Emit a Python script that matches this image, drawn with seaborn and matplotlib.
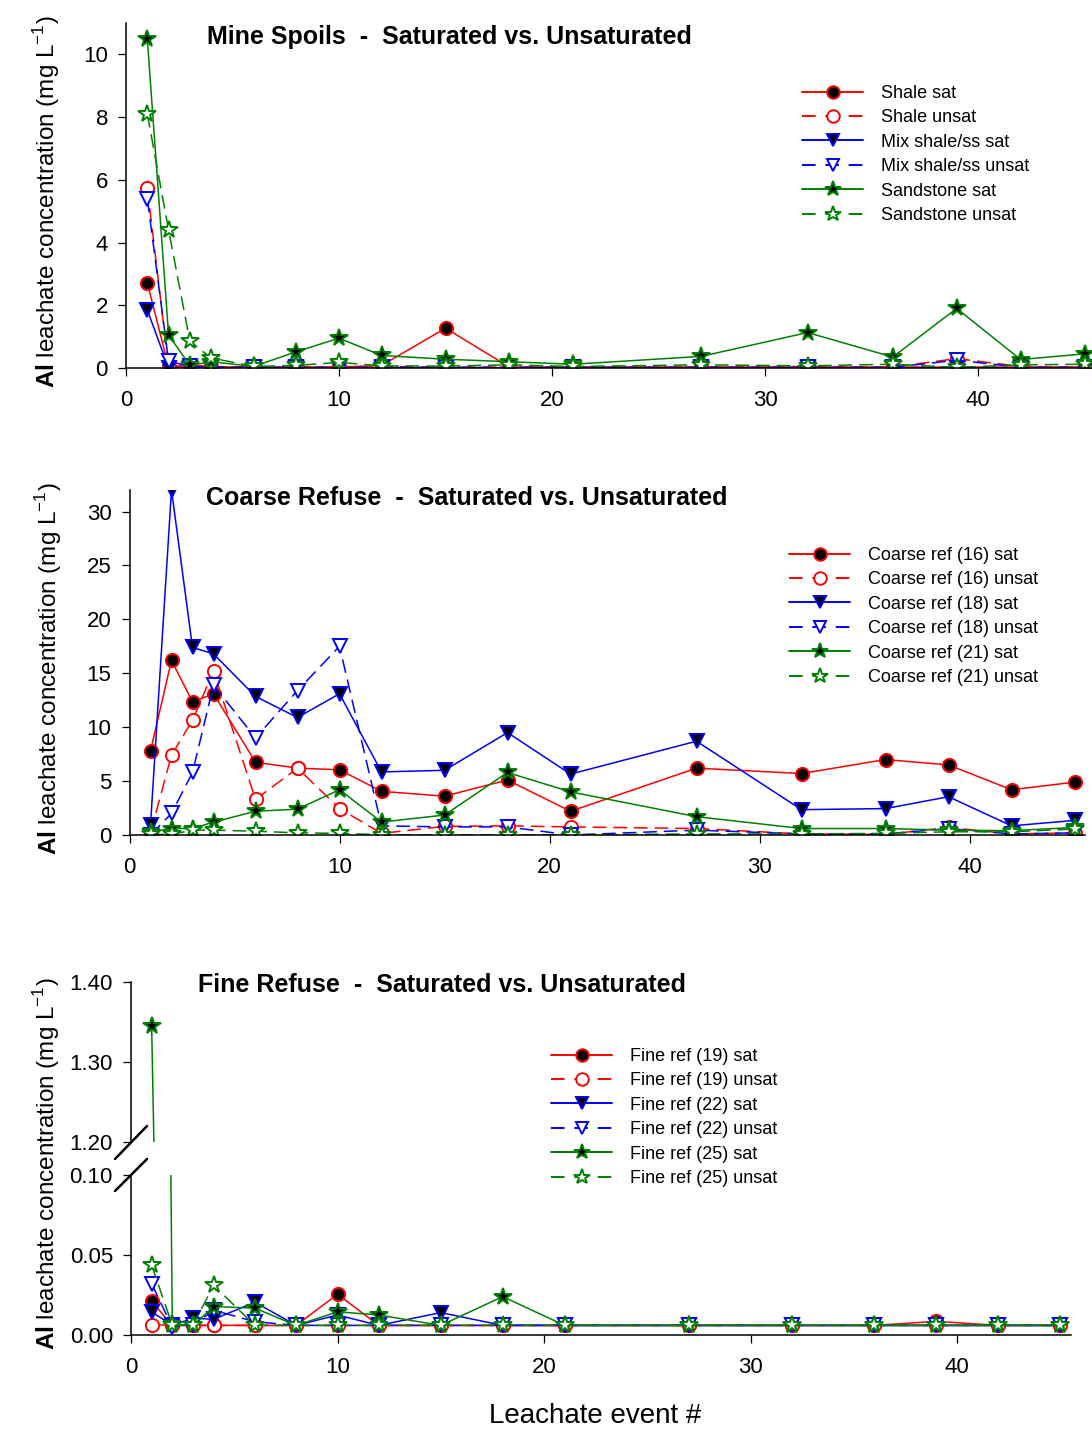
import matplotlib
matplotlib.use("Agg")
import seaborn as sns
from matplotlib import pyplot as plt
from matplotlib.lines import Line2D
from matplotlib.ticker import FormatStrFormatter

# leachate events (x) shared by all panels
events = [1, 2, 3, 4, 6, 8, 10, 12, 15, 18, 21, 27, 32, 36, 39, 42, 45]

# Mine spoils
shale_sat = [2.72, 0.03, 0.08, 0.03, 0.03, 0.03, 0.03, 0.08, 1.27, 0.03, 0.03, 0.03, 0.03, 0.03, 0.03, 0.03, 0.03]
shale_unsat = [5.75, 0.03, 0.1, 0.04, 0.03, 0.03, 0.03, 0.05, 0.03, 0.03, 0.03, 0.03, 0.05, 0.03, 0.3, 0.05, 0.03]
mix_sat = [1.85, 0.0, 0.0, 0.0, 0.0, 0.0, 0.0, 0.0, 0.0, 0.0, 0.0, 0.0, 0.0, 0.0, 0.0, 0.0, 0.0]
mix_unsat = [5.4, 0.22, 0.05, 0.03, 0.02, 0.02, 0.02, 0.02, 0.02, 0.02, 0.02, 0.02, 0.02, 0.02, 0.25, 0.02, 0.02]
sand_sat = [10.5, 1.05, 0.08, 0.2, 0.05, 0.52, 0.95, 0.4, 0.28, 0.2, 0.12, 0.37, 1.13, 0.35, 1.9, 0.27, 0.45]
sand_unsat = [8.1, 4.4, 0.85, 0.32, 0.05, 0.08, 0.18, 0.07, 0.06, 0.1, 0.05, 0.1, 0.07, 0.12, 0.02, 0.1, 0.12]

# Coarse refuse
c16_sat = [7.8, 16.2, 12.35, 13.1, 6.75, 6.2, 6.05, 4.05, 3.6, 5.1, 2.2, 6.2, 5.7, 7.0, 6.5, 4.2, 4.9]
c16_unsat = [0.2, 7.4, 10.65, 15.2, 3.3, 6.2, 2.45, 0.15, 0.8, 0.85, 0.75, 0.6, 0.1, 0.05, 0.7, 0.1, 0.2]
c18_sat = [0.9, 32.0, 17.4, 16.8, 12.85, 10.9, 13.1, 5.85, 6.0, 9.5, 5.65, 8.7, 2.35, 2.45, 3.55, 0.85, 1.35]
c18_unsat = [0.0, 2.0, 5.8, 13.9, 9.0, 13.4, 17.5, 0.85, 0.75, 0.75, 0.0, 0.45, 0.1, 0.1, 0.6, 0.1, 0.2]
c21_sat = [0.3, 0.6, 0.6, 1.2, 2.2, 2.4, 4.2, 1.2, 1.85, 5.8, 4.0, 1.7, 0.6, 0.6, 0.45, 0.4, 0.7]
c21_unsat = [0.05, 0.05, 0.45, 0.45, 0.35, 0.2, 0.15, 0.02, 0.02, 0.02, 0.02, 0.1, 0.1, 0.15, 0.3, 0.3, 0.55]

# Fine refuse
f19_sat = [0.021, 0.006, 0.006, 0.006, 0.006, 0.006, 0.0255, 0.006, 0.006, 0.006, 0.006, 0.006, 0.006, 0.006, 0.0085, 0.006, 0.006]
f19_unsat = [0.0065, 0.006, 0.006, 0.006, 0.006, 0.006, 0.006, 0.006, 0.006, 0.006, 0.006, 0.006, 0.006, 0.006, 0.006, 0.006, 0.006]
f22_sat = [0.0145, 0.006, 0.0105, 0.0098, 0.0205, 0.006, 0.0125, 0.006, 0.014, 0.006, 0.006, 0.006, 0.006, 0.006, 0.006, 0.006, 0.006]
f22_unsat = [0.032, 0.005, 0.006, 0.0155, 0.0083, 0.006, 0.006, 0.006, 0.006, 0.006, 0.006, 0.006, 0.006, 0.006, 0.006, 0.006, 0.006]
f25_sat = [1.345, 0.007, 0.006, 0.0178, 0.0168, 0.006, 0.0145, 0.0125, 0.006, 0.024, 0.006, 0.006, 0.006, 0.006, 0.006, 0.006, 0.006]
f25_unsat = [0.0437, 0.006, 0.006, 0.031, 0.006, 0.006, 0.006, 0.006, 0.006, 0.006, 0.006, 0.006, 0.006, 0.006, 0.006, 0.006, 0.006]

mine_labels = ["Shale sat", "Shale unsat", "Mix shale/ss sat", "Mix shale/ss unsat", "Sandstone sat", "Sandstone unsat"]
coarse_labels = ["Coarse ref (16) sat", "Coarse ref (16) unsat", "Coarse ref (18) sat",
                 "Coarse ref (18) unsat", "Coarse ref (21) sat", "Coarse ref (21) unsat"]
fine_labels = ["Fine ref (19) sat", "Fine ref (19) unsat", "Fine ref (22) sat",
               "Fine ref (22) unsat", "Fine ref (25) sat", "Fine ref (25) unsat"]

# color, marker, filled, dashed -- same for every panel
styles = [("#ff0000", "o", True, False), ("#ff0000", "o", False, True),
          ("#0000ff", "v", True, False), ("#0000ff", "v", False, True),
          ("#008000", "*", True, False), ("#008000", "*", False, True)]

sns.set_style("ticks")
plt.rcParams["font.family"] = ["Liberation Sans", "DejaVu Sans"]
plt.rcParams["mathtext.fontset"] = "custom"
plt.rcParams["mathtext.rm"] = "Liberation Sans"
plt.rcParams["mathtext.bf"] = "Liberation Sans:bold"
for key in ["text.color", "axes.labelcolor", "xtick.color", "ytick.color", "axes.edgecolor"]:
    plt.rcParams[key] = "black"

W, H = 1092, 1431
fig = plt.figure(figsize=(W / 100, H / 100), dpi=100)


def rect(l, t, r, b):
    return [l / W, 1 - b / H, (r - l) / W, (b - t) / H]


def draw(ax, series):
    for vals, (col, mk, filled, dashed) in zip(series, styles):
        ms = 13 if mk == "*" else 9.5
        sns.lineplot(x=events, y=vals, ax=ax, color=col, marker=mk, markersize=ms,
                     markerfacecolor="black" if filled else "white",
                     markeredgecolor=col, markeredgewidth=1.4, linewidth=1.1,
                     linestyle=(0, (9, 4.5)) if dashed else "-",
                     errorbar=None, legend=False)


def style_axes(ax, hide_bottom=False):
    sns.despine(ax=ax, bottom=hide_bottom)
    for s in ["left", "bottom"]:
        ax.spines[s].set_linewidth(1.1)
    ax.tick_params(direction="out", length=6, width=0.9, labelsize=16, pad=7)
    ax.tick_params(axis="x", pad=10)
    ax.set_xlabel("")
    ax.set_ylabel("")
    ax.set_xlim(0, 45.5)


def add_legend(ax, labels, x, y):
    leg_h = []
    for (col, mk, filled, dashed) in styles:
        leg_h.append(Line2D([], [], color=col, marker=mk, markersize=11.5 if mk == "*" else 9,
                            markerfacecolor="black" if filled else "white",
                            markeredgecolor=col, markeredgewidth=1.4, linewidth=1.4,
                            linestyle=(0, (7, 5)) if dashed else "-"))
    ax.legend(leg_h, labels, loc="upper left", bbox_to_anchor=(x / W, 1 - y / H),
              bbox_transform=fig.transFigure, frameon=False, fontsize=13,
              handlelength=3.4, handletextpad=1.0, labelspacing=0.41,
              borderpad=0, borderaxespad=0, numpoints=1)


ylab = r"$\bf{Al}$ leachate concentration (mg L$^{-1}$)"

# ---- Mine spoils ----
ax1 = fig.add_axes(rect(126, 23, 126 + 45.5 * 21.3, 368))
draw(ax1, [shale_sat, shale_unsat, mix_sat, mix_unsat, sand_sat, sand_unsat])
style_axes(ax1)
ax1.set_ylim(0, 11)
ax1.set_yticks([0, 2, 4, 6, 8, 10])
ax1.set_xticks([0, 10, 20, 30, 40])
add_legend(ax1, mine_labels, 802, 85)
fig.text(207 / W, 1 - 37 / H, "Mine Spoils  -  Saturated vs. Unsaturated",
         fontsize=18, fontweight="bold", va="center", ha="left")
fig.text(62 / W, 1 - 388 / H, ylab, rotation=90, fontsize=17.5, ha="right", va="bottom")

# ---- Coarse refuse ----
ax2 = fig.add_axes(rect(129.5, 490, 129.5 + 45.5 * 21.0, 835))
draw(ax2, [c16_sat, c16_unsat, c18_sat, c18_unsat, c21_sat, c21_unsat])
style_axes(ax2)
ax2.set_ylim(0, 32)
ax2.set_yticks([0, 5, 10, 15, 20, 25, 30])
ax2.set_xticks([0, 10, 20, 30, 40])
add_legend(ax2, coarse_labels, 789, 547)
fig.text(206 / W, 1 - 498 / H, "Coarse Refuse  -  Saturated vs. Unsaturated",
         fontsize=18, fontweight="bold", va="center", ha="left")
fig.text(64 / W, 1 - 855 / H, ylab, rotation=90, fontsize=17.5, ha="right", va="bottom")

# ---- Fine refuse (broken y axis) ----
fine = [f19_sat, f19_unsat, f22_sat, f22_unsat, f25_sat, f25_unsat]
ax3h = fig.add_axes(rect(131, 982, 131 + 45.5 * 20.65, 1142))
ax3l = fig.add_axes(rect(131, 1175, 131 + 45.5 * 20.65, 1335))
draw(ax3h, fine)
draw(ax3l, fine)
style_axes(ax3h, hide_bottom=True)
style_axes(ax3l)
ax3h.set_ylim(1.2, 1.4)
ax3h.set_yticks([1.2, 1.3, 1.4])
ax3h.set_xticks([])
ax3l.set_ylim(0, 0.1)
ax3l.set_yticks([0, 0.05, 0.10])
ax3l.set_xticks([0, 10, 20, 30, 40])
for a in (ax3h, ax3l):
    a.yaxis.set_major_formatter(FormatStrFormatter("%.2f"))
    a.patch.set_alpha(0)
for (x0, y0, x1, y1) in [(115, 1159, 147, 1126), (115, 1191, 147, 1159)]:
    fig.add_artist(Line2D([x0 / W, x1 / W], [1 - y0 / H, 1 - y1 / H], color="black",
                          linewidth=1.8, transform=fig.transFigure))
add_legend(ax3l, fine_labels, 551, 1048)
fig.text(198 / W, 1 - 985 / H, "Fine Refuse  -  Saturated vs. Unsaturated",
         fontsize=18, fontweight="bold", va="center", ha="left")
fig.text(62 / W, 1 - 1350 / H, ylab, rotation=90, fontsize=17.5, ha="right", va="bottom")
fig.text(595 / W, 1 - 1416 / H, "Leachate event #", fontsize=20, ha="center", va="center")

fig.savefig("out.png", dpi=100)
